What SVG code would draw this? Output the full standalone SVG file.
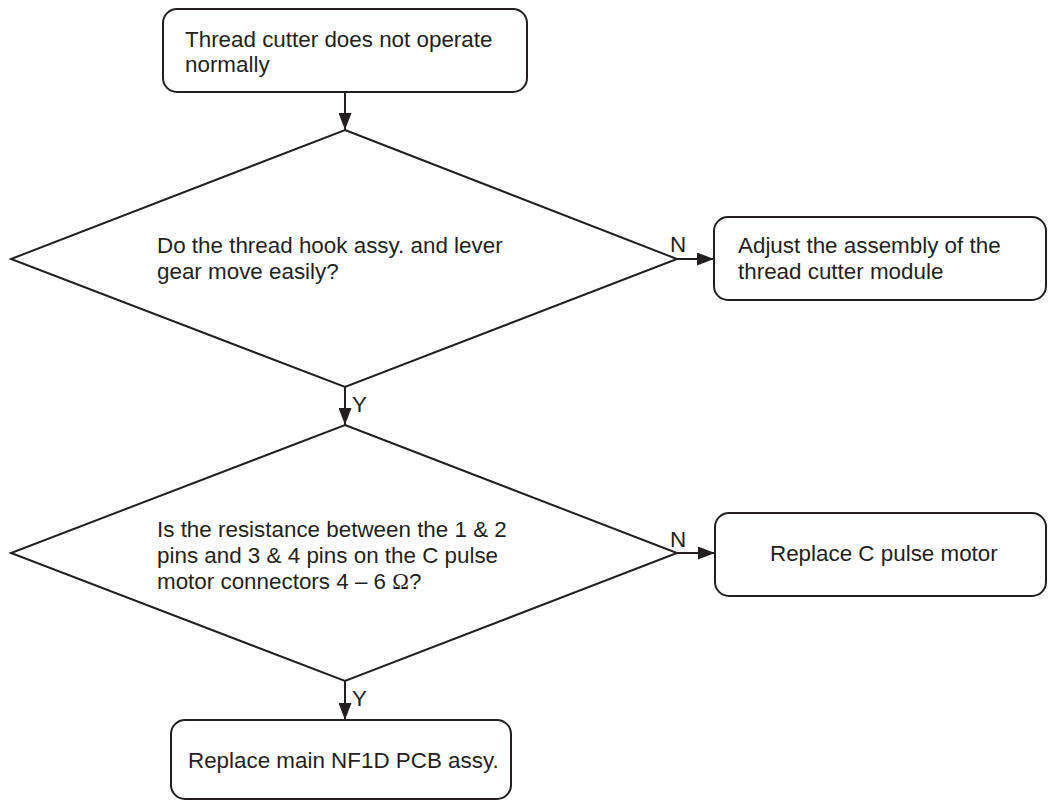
<svg xmlns="http://www.w3.org/2000/svg" width="1048" height="803" viewBox="0 0 1048 803">
<style>
.box{fill:#fff;stroke:#231f20;stroke-width:2}
.dia{fill:#fff;stroke:#231f20;stroke-width:2;stroke-linejoin:miter}
.t{font-family:"Liberation Sans",Arial,sans-serif;font-size:22.4px;fill:#231f20}
.s{font-family:"Liberation Serif","Times New Roman",serif}
.c{stroke:#231f20;stroke-width:2;fill:none}
</style>
<defs>
<marker id="ah" markerUnits="userSpaceOnUse" markerWidth="17" markerHeight="13" refX="17" refY="6.5" orient="auto">
<path d="M0,0 L17,6.5 L0,13 Z" fill="#231f20"/>
</marker>
</defs>
<g id="connectors">
<line class="c" x1="345" y1="92" x2="345" y2="130" marker-end="url(#ah)"/>
<line class="c" x1="677" y1="259" x2="714" y2="259" marker-end="url(#ah)"/>
<line class="c" x1="345" y1="387" x2="345" y2="425" marker-end="url(#ah)"/>
<line class="c" x1="677" y1="553" x2="715" y2="553" marker-end="url(#ah)"/>
<line class="c" x1="345" y1="681" x2="345" y2="720" marker-end="url(#ah)"/>
<text class="t" x="670" y="252">N</text>
<text class="t" x="352" y="412">Y</text>
<text class="t" x="670" y="547">N</text>
<text class="t" x="352" y="706">Y</text>
</g>
<g id="start">
<rect class="box" x="163" y="9" width="364" height="83" rx="14"/>
<text class="t" x="185" y="47">Thread cutter does not operate</text>
<text class="t" x="185" y="72">normally</text>
</g>
<g id="decision1">
<polygon class="dia" points="345,130 677,259 345,387 11,259"/>
<text class="t" x="157" y="253">Do the thread hook assy. and lever</text>
<text class="t" x="157" y="279">gear move easily?</text>
</g>
<g id="adjust">
<rect class="box" x="714" y="217" width="332" height="83" rx="14"/>
<text class="t" x="738" y="253">Adjust the assembly of the</text>
<text class="t" x="738" y="279">thread cutter module</text>
</g>
<g id="decision2">
<polygon class="dia" points="345,425 677,553 345,681 11,553"/>
<text class="t" x="157" y="537">Is the resistance between the 1 &amp; 2</text>
<text class="t" x="157" y="563">pins and 3 &amp; 4 pins on the C pulse</text>
<text class="t" x="157" y="589">motor connectors 4 – 6 <tspan class="s">Ω</tspan>?</text>
</g>
<g id="replace-motor">
<rect class="box" x="715" y="513" width="331" height="83" rx="14"/>
<text class="t" x="770" y="561">Replace C pulse motor</text>
</g>
<g id="replace-pcb">
<rect class="box" x="171" y="720" width="340" height="79" rx="14"/>
<text class="t" x="188" y="768">Replace main NF1D PCB assy.</text>
</g>
</svg>
